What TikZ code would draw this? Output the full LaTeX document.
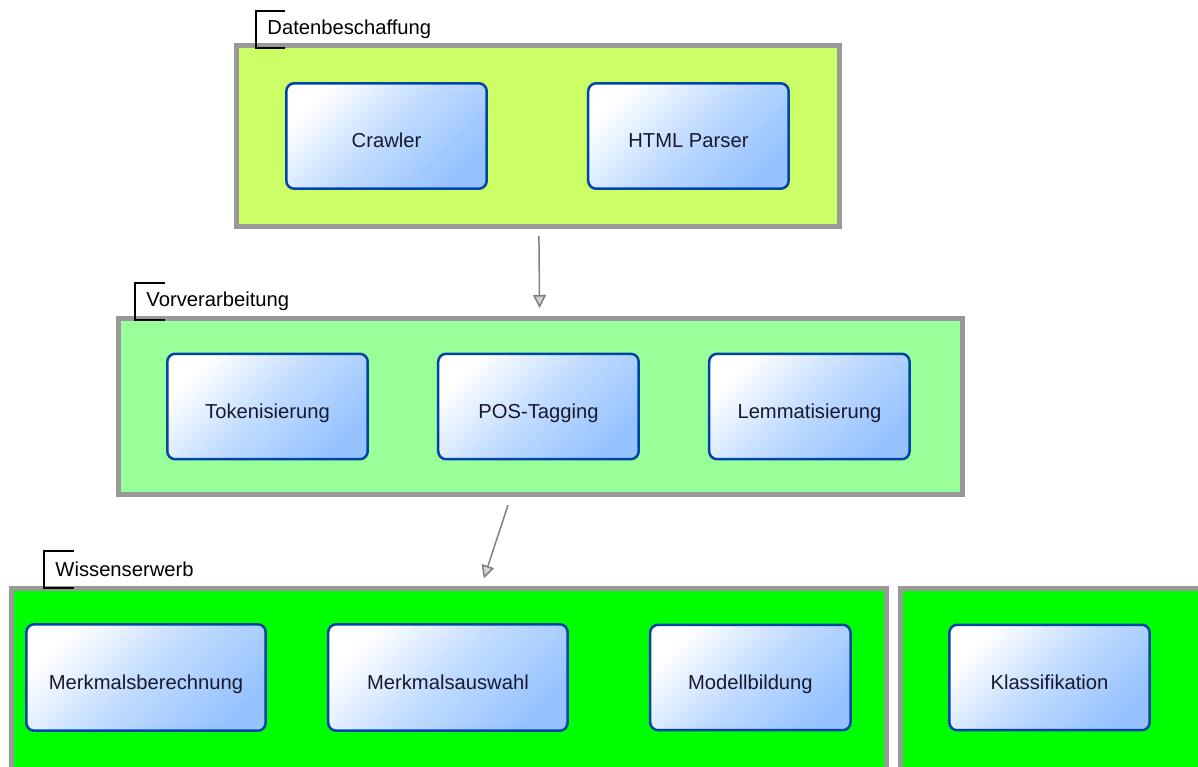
\documentclass[tikz,border=0pt]{standalone}
\usepackage{fontspec}
\setmainfont{Liberation Sans}
\usetikzlibrary{arrows.meta}
\usetikzlibrary{positioning}

\definecolor{phaseframe}{RGB}{153,153,153}
\definecolor{limefill}{RGB}{204,255,102}
\definecolor{palegreen}{RGB}{153,255,153}
\definecolor{brightgreen}{RGB}{0,255,0}
\definecolor{taskblue}{RGB}{0,68,170}
\definecolor{taskfill}{RGB}{150,195,255}
\definecolor{tasktext}{RGB}{25,25,45}
\definecolor{arrowgray}{RGB}{128,128,128}
\definecolor{arrowfill}{RGB}{210,210,210}

\begin{document}
\begin{tikzpicture}[
				x=0.02cm, y=-0.02cm,
				line width=0.2mm,
				font=\fontsize{11.5}{13}\selectfont,
				phase/.style={draw=phaseframe, line width=1mm, inner sep=0pt},
				task/.style={draw=taskblue, line width=0.5mm, rounded corners=1.6mm,
					top color=white, bottom color=taskfill, middle color=taskfill!60!white, shading angle=45,
					text=tasktext, text height=16.5pt, text depth=3pt,
					minimum width=4.01cm, minimum height=2.11cm, inner sep=0pt},
				widetask/.style={task, minimum width=4.79cm, minimum height=2.13cm},
				tag/.style={anchor=north west, minimum height=0.72cm, inner xsep=0.22cm, inner ysep=0pt},
				bracket/.style={black, line width=0.3mm},
				arrow/.style={draw=arrowgray, line width=0.3mm, -{Triangle[length=0.26cm, width=0.26cm, fill=arrowfill]}},
			]
				\useasboundingbox (0,0) rectangle (1198,767);

				\node (daten) [phase, fill=limefill, minimum width=12.06cm, minimum height=3.62cm] at (538,136) {};
				\node (vor) [phase, fill=palegreen, minimum width=16.88cm, minimum height=3.53cm] at (540.5,406.75) {};
				\node (wiss) [phase, fill=brightgreen, minimum width=17.5cm, minimum height=3.83cm] at (449,684.25) {};
				\node (klass) [phase, fill=brightgreen, minimum width=6.19cm, minimum height=3.83cm] at (1055.25,684.25) {};

				\node (crawler) [task] at (386.5,136) {Crawler};
				\node (parser) [task, right=1.98cm of crawler] {HTML Parser};

				\node (token) [task] at (267.5,406.5) {Tokenisierung};
				\node (pos) [task, right=1.36cm of token] {POS-Tagging};
				\node (lemma) [task, right=1.36cm of pos] {Lemmatisierung};

				\node (berech) [widetask] at (146,677.5) {Merkmalsberechnung};
				\node (auswahl) [widetask, right=1.2cm of berech] {Merkmalsauswahl};
				\node (modell) [task, right=1.6cm of auswahl] {Modellbildung};
				\node (klassif) [task] at (1049.5,677.5) {Klassifikation};

				\node (datentag) [tag] at (256,11) {Datenbeschaffung};
				\node (vortag) [tag] at (135,283) {Vorverarbeitung};
				\node (wisstag) [tag] at (44,551) {Wissenserwerb};

				\draw[bracket] (datentag.north west) ++(29,0) -- (datentag.north west) -- (datentag.south west) -- ++(29,0);
				\draw[bracket] (vortag.north west) ++(30,0) -- (vortag.north west) -- (vortag.south west) -- ++(30,0);
				\draw[bracket] (wisstag.north west) ++(30,0) -- (wisstag.north west) -- (wisstag.south west) -- ++(30,0);

				\draw[arrow, shorten <=0.14cm, shorten >=0.16cm] (daten) -- (vor);
				\draw[arrow, shorten <=0.16cm, shorten >=0.16cm] (vor) -- (wiss);
			\end{tikzpicture}
\end{document}
